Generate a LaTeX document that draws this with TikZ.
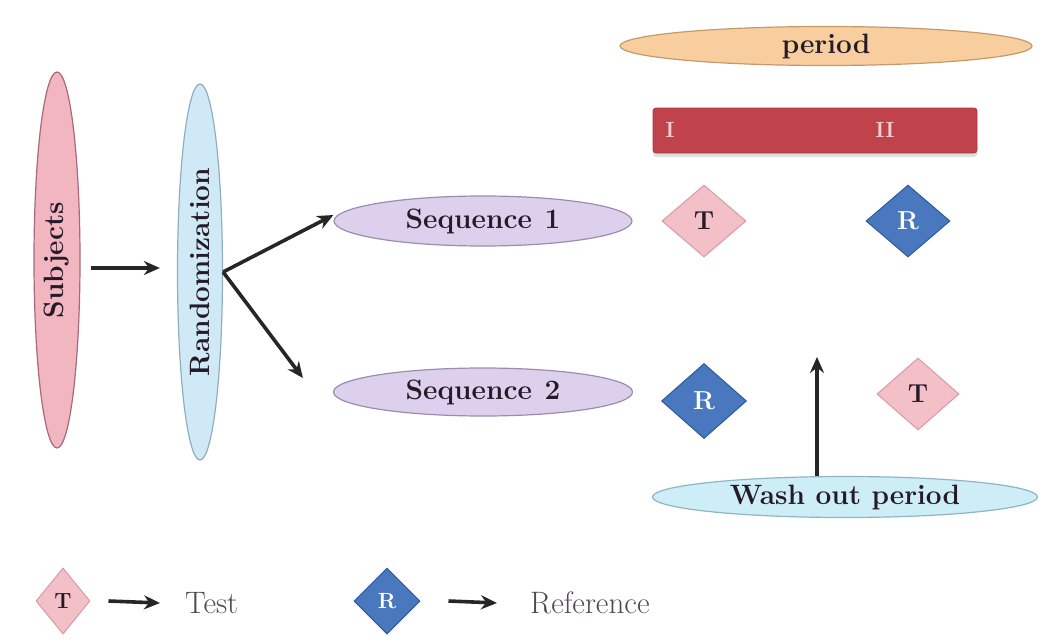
\documentclass[tikz,border=0pt]{standalone}
\usetikzlibrary{shapes.geometric,arrows.meta,shadows}
\definecolor{txt}{HTML}{241A28}
\definecolor{subjfill}{HTML}{F2B6C0}
\definecolor{subjdraw}{HTML}{A86A78}
\definecolor{randfill}{HTML}{CFEAF6}
\definecolor{randdraw}{HTML}{8FAFC0}
\definecolor{seqfill}{HTML}{DCD0EC}
\definecolor{seqdraw}{HTML}{9A8EB0}
\definecolor{perfill}{HTML}{F8CE9E}
\definecolor{perdraw}{HTML}{C49A6A}
\definecolor{barfill}{HTML}{C0424B}
\definecolor{bartxt}{HTML}{F4CDD0}
\definecolor{tfill}{HTML}{F4C0C8}
\definecolor{tdraw}{HTML}{D898A5}
\definecolor{rfill}{HTML}{4A78BF}
\definecolor{rdraw}{HTML}{2E5A9C}
\definecolor{washfill}{HTML}{CDEEF7}
\definecolor{washdraw}{HTML}{8FB5C5}
\tikzset{
  oval/.style={ellipse, inner sep=0pt, line width=1.2pt, text=txt,
    font=\fontsize{28}{30}\selectfont\bfseries},
  tdia/.style={diamond, inner sep=0pt, fill=tfill, draw=tdraw, line width=1pt,
    text=txt, font=\fontsize{26}{28}\selectfont\bfseries},
  rdia/.style={diamond, inner sep=0pt, fill=rfill, draw=rdraw, line width=1pt,
    text=white, font=\fontsize{26}{28}\selectfont\bfseries},
  arr/.style={line width=3.6pt, -{Stealth[length=16pt,width=14pt]}, black!85},
  legtxt/.style={inner sep=0pt, anchor=west, text=txt!80,
    font=\fontsize{31}{33}\selectfont},
  bartext/.style={text=bartxt, font=\fontsize{22}{24}\selectfont\bfseries},
}
\begin{document}
\begin{tikzpicture}[x=1pt,y=-1pt]
\useasboundingbox (0,0) rectangle (1046,642);
% left column
\node[oval, fill=subjfill, draw=subjdraw, minimum width=376pt, minimum height=46pt, rotate=90] (subj) at (57,260) {Subjects};
\node[oval, fill=randfill, draw=randdraw, minimum width=376pt, minimum height=45pt, rotate=90] (rand) at (200,272) {Randomization};
% sequences
\node[oval, fill=seqfill, draw=seqdraw, minimum width=298pt, minimum height=50pt] (seq1) at (483,221) {Sequence\hspace{0.45em}1};
\node[oval, fill=seqfill, draw=seqdraw, minimum width=299pt, minimum height=48pt] (seq2) at (483,392) {Sequence\hspace{0.45em}2};
% period
\node[oval, fill=perfill, draw=perdraw, minimum width=412pt, minimum height=39pt] (per) at (826,46) {period};
\node[rectangle, rounded corners=3pt, fill=barfill, draw=barfill!85!black, line width=0.8pt, minimum width=324pt, minimum height=45pt,
  drop shadow={shadow xshift=0pt, shadow yshift=-4pt, fill=black!25}] (bar) at (815,130.5) {};
\node[bartext] (b1) at (670,130) {I};
\node[bartext] (b2) at (885,130) {II};
% diamonds
\node[tdia, minimum width=84pt, minimum height=72pt] (t1) at (704,221) {T};
\node[rdia, minimum width=84pt, minimum height=72pt] (r1) at (908,221) {R};
\node[rdia, minimum width=85pt, minimum height=75pt] (r2) at (704,401) {R};
\node[tdia, minimum width=82pt, minimum height=72pt] (t2) at (918,394) {T};
% wash out
\node[oval, fill=washfill, draw=washdraw, minimum width=385pt, minimum height=41pt] (wash) at (845,497) {Wash out period};
% legend
\node[tdia, minimum width=54pt, minimum height=66pt, font=\fontsize{22}{24}\selectfont\bfseries] (legT) at (63,601) {T};
\node[legtxt] (test) at (185,603) {Test};
\node[rdia, minimum width=66pt, minimum height=66pt, font=\fontsize{22}{24}\selectfont\bfseries] (legR) at (387,601) {R};
\node[legtxt] (ref) at (530,603) {Reference};
% connectors
\draw[arr] ([shift={(10,8)}]subj.south) -- ([shift={(-17,-4)}]rand.north);
\draw[arr] (rand.south) -- ([yshift=6]seq1.west);
\draw[arr] (rand.south) -- ([shift={(-30,-14)}]seq2.west);
\draw[arr] ([xshift=-28]wash.north) -- ++(0,-119);
\draw[arr] ([xshift=18]legT.east) -- ([xshift=-25]test.west);
\draw[arr] ([xshift=28]legR.east) -- ([xshift=-33]ref.west);
\end{tikzpicture}
\end{document}
